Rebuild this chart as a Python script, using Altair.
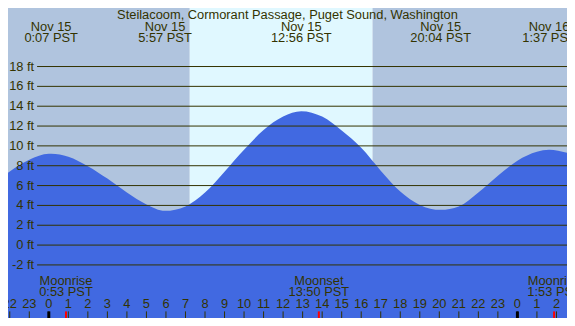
import altair as alt
import pandas as pd

# ---------------- data ----------------
tide_hours = [-2.09, -1, 0, 0.12, 1, 2, 3, 4, 5, 5.95, 7, 8, 9, 10, 11, 12, 12.93,
              14, 15, 16, 17, 18, 19, 20.07, 21, 22, 23, 24, 25, 25.62, 26.54]
tide_feet = [7.3, 8.6, 9.2, 9.2, 8.9, 7.95, 6.7, 5.3, 4.1, 3.45, 3.9, 5.3, 7.4, 9.6, 11.6, 12.95, 13.5,
             12.95, 11.55, 9.8, 7.5, 5.4, 4.05, 3.55, 3.9, 5.3, 7.0, 8.5, 9.4, 9.6, 9.3]

band_start = [-2.09, 7.22, 16.58]
band_end = [7.22, 16.58, 26.54]
band_kind = ["night", "day", "night"]

grid_feet = [-2, 0, 2, 4, 6, 8, 10, 12, 14, 16, 18]
grid_labels = ["-2 ft", "0 ft", "2 ft", "4 ft", "6 ft", "8 ft", "10 ft", "12 ft", "14 ft", "16 ft", "18 ft"]

extreme_hours = [0.12, 5.95, 12.93, 20.07, 25.62]
extreme_dates = ["Nov 15", "Nov 15", "Nov 15", "Nov 15", "Nov 16"]
extreme_times = ["0:07 PST", "5:57 PST", "12:56 PST", "20:04 PST", "1:37 PST"]

moon_hours = [0.88, 13.83, 25.88]
moon_events = ["Moonrise", "Moonset", "Moonrise"]
moon_times = ["0:53 PST", "13:50 PST", "1:53 PST"]

tick_hours = list(range(-2, 27))
tick_labels = [str(h % 24) for h in tick_hours]
midnight_hours = [0, 24]

title_text = "Steilacoom, Cormorant Passage, Puget Sound, Washington"

# ---------------- layout ----------------
W, H = 559, 310
TXT = "#333300"
FONT = "Liberation Sans"
FS = 12.85
Y_MIN, Y_MAX = -7.35, 23.9

xs = alt.Scale(domain=[-2.09, 26.54], nice=False, zero=False)
ys = alt.Scale(domain=[Y_MIN, Y_MAX], nice=False, zero=False)

bands = pd.DataFrame({"s": band_start, "e": band_end, "k": band_kind})
tide = pd.DataFrame({"h": tide_hours, "ft": tide_feet})
grid = pd.DataFrame({"ft": grid_feet, "lab": grid_labels, "x0": -0.6, "x1": 26.54})
ext = pd.DataFrame({"h": extreme_hours, "d": extreme_dates, "t": extreme_times})
moon = pd.DataFrame({"h": moon_hours, "ev": moon_events, "t": moon_times})
ticks = pd.DataFrame({"h": tick_hours, "lab": tick_labels})
mid = pd.DataFrame({"h": midnight_hours})

X = lambda f: alt.X(f, type="quantitative", scale=xs, axis=None)
Y = lambda f: alt.Y(f, type="quantitative", scale=ys, axis=None)

band_layer = alt.Chart(bands).mark_rect().encode(
    x=X("s"), x2="e", y=alt.value(0), y2=alt.value(H),
    color=alt.Color("k:N", scale=alt.Scale(domain=["night", "day"], range=["#B0C4DE", "#E0F8FF"]), legend=None),
)

area_layer = alt.Chart(tide).mark_area(interpolate="monotone", color="#4169E1", opacity=1).encode(
    x=X("h"), y=Y("ft"), y2=alt.Y2(datum=Y_MIN)
)

grid_layer = alt.Chart(grid).mark_rule(color=TXT, strokeWidth=1).encode(
    x=X("x0"), x2="x1", y=Y("ft")
)

txt = dict(align="center", baseline="middle", font=FONT, fontSize=FS, color=TXT)

grid_text = alt.Chart(grid).mark_text(**{**txt, "align": "right"}).encode(
    x=alt.value(26.2), y=Y("ft"), text="lab:N"
)

title_layer = alt.Chart(pd.DataFrame({"t": [title_text]})).mark_text(**txt).encode(
    x=alt.value(W / 2), y=alt.value(7.1), text="t:N"
)

ext_d = alt.Chart(ext).mark_text(**txt).encode(x=X("h"), y=alt.value(18.5), text="d:N")
ext_t = alt.Chart(ext).mark_text(**txt).encode(x=X("h"), y=alt.value(29.5), text="t:N")

moon_e = alt.Chart(moon).mark_text(**txt).encode(x=X("h"), y=alt.value(273.4), text="ev:N")
moon_t = alt.Chart(moon).mark_text(**txt).encode(x=X("h"), y=alt.value(284.3), text="t:N")

tick_text = alt.Chart(ticks).mark_text(**txt).encode(x=X("h"), y=alt.value(296.2), text="lab:N")
tick_rule = alt.Chart(ticks).mark_rule(color=TXT, strokeWidth=1).encode(
    x=X("h"), y=alt.value(303.4), y2=alt.value(H)
)
mid_rule = alt.Chart(mid).mark_rule(color="#000000", strokeWidth=3).encode(
    x=X("h"), y=alt.value(303.4), y2=alt.value(H)
)
moon_rule = alt.Chart(moon).mark_rule(color="#FF0000", strokeWidth=2).encode(
    x=X("h"), y=alt.value(303.4), y2=alt.value(H)
)

chart = alt.layer(
    band_layer, area_layer, grid_layer, grid_text, title_layer, ext_d, ext_t,
    moon_e, moon_t, tick_text, tick_rule, mid_rule, moon_rule
).properties(
    width=W, height=H, autosize=alt.AutoSizeParams(type="none"), padding=0
).configure_view(stroke=None)

chart.save("out.html", embed_options={"renderer": "svg", "actions": False})
